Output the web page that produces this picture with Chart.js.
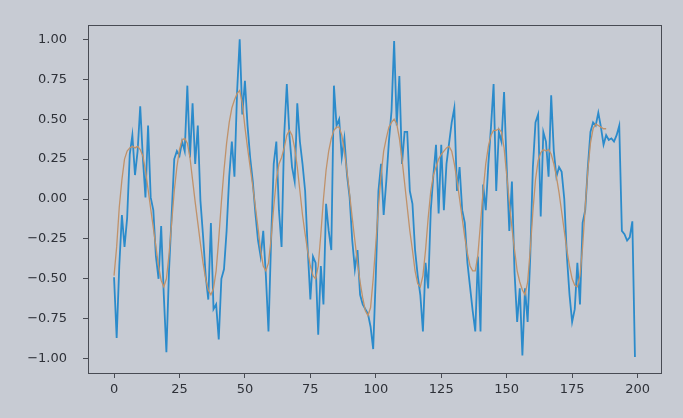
<!DOCTYPE html>
<html>
<head>
<meta charset="utf-8">
<script src="https://cdn.jsdelivr.net/npm/chart.js@4/dist/chart.umd.min.js"></script>
<style>
  html, body { margin: 0; padding: 0; background: #c7cbd3; }
  #wrap { width: 683px; height: 418px; position: relative; }
</style>
</head>
<body>
<div id="wrap"><canvas id="chart" width="683" height="418"></canvas></div>
<script>
// measured signal (blue), one value per step 0..199
const actual = [
  -0.49, -0.87, -0.42, -0.10, -0.30, -0.12, 0.28, 0.40, 0.15, 0.30,
  0.58, 0.26, 0.01, 0.46, 0.01, -0.07, -0.36, -0.50, -0.17, -0.60,
  -0.96, -0.45, -0.10, 0.25, 0.30, 0.27, 0.36, 0.30, 0.71, 0.26,
  0.60, 0.22, 0.46, -0.01, -0.23, -0.48, -0.63, -0.15, -0.69, -0.66,
  -0.88, -0.50, -0.44, -0.20, 0.14, 0.36, 0.14, 0.67, 1.00, 0.53,
  0.74, 0.46, 0.26, 0.11, -0.09, -0.26, -0.36, -0.20, -0.48, -0.83,
  -0.26, 0.22, 0.36, -0.07, -0.30, 0.40, 0.72, 0.40, 0.20, 0.11,
  0.60, 0.36, 0.22, 0.05, -0.32, -0.63, -0.36, -0.40, -0.85, -0.42,
  -0.66, -0.03, -0.20, -0.32, 0.71, 0.46, 0.50, 0.26, 0.38, 0.15,
  0.01, -0.26, -0.44, -0.32, -0.60, -0.66, -0.69, -0.72, -0.80, -0.94,
  -0.48, 0.05, 0.22, -0.10, 0.11, 0.36, 0.55, 0.99, 0.46, 0.77,
  0.22, 0.42, 0.42, 0.05, -0.03, -0.32, -0.48, -0.60, -0.83, -0.40,
  -0.56, -0.07, 0.15, 0.34, -0.09, 0.34, -0.07, 0.22, 0.35, 0.48,
  0.57, 0.05, 0.20, -0.07, -0.15, -0.40, -0.55, -0.70, -0.83, -0.36,
  -0.83, 0.09, -0.07, 0.22, 0.45, 0.72, 0.05, 0.42, 0.36, 0.67,
  0.20, -0.20, 0.11, -0.46, -0.77, -0.56, -0.98, -0.56, -0.77, -0.36,
  0.20, 0.48, 0.53, -0.11, 0.42, 0.36, 0.14, 0.65, 0.30, 0.14,
  0.20, 0.17, 0.00, -0.36, -0.60, -0.77, -0.69, -0.40, -0.66, -0.15,
  -0.07, 0.20, 0.42, 0.48, 0.46, 0.54, 0.45, 0.34, 0.40, 0.37,
  0.38, 0.36, 0.40, 0.46, -0.20, -0.22, -0.26, -0.24, -0.14, -0.99
];

// smoothed / predicted curve (orange), steps 0..188
const predicted = [
  -0.48, -0.30, -0.05, 0.12, 0.25, 0.30, 0.32, 0.33, 0.32, 0.33,
  0.31, 0.27, 0.18, 0.06, -0.06, -0.18, -0.30, -0.42, -0.51, -0.55,
  -0.50, -0.35, -0.15, 0.05, 0.20, 0.31, 0.37, 0.38, 0.35, 0.26,
  0.12, -0.02, -0.15, -0.28, -0.40, -0.50, -0.57, -0.60, -0.56, -0.45,
  -0.25, -0.02, 0.18, 0.35, 0.48, 0.57, 0.62, 0.66, 0.68, 0.60,
  0.45, 0.32, 0.20, 0.08, -0.05, -0.18, -0.32, -0.42, -0.45, -0.40,
  -0.25, -0.05, 0.12, 0.22, 0.26, 0.32, 0.40, 0.43, 0.40, 0.32,
  0.20, 0.05, -0.10, -0.22, -0.33, -0.42, -0.48, -0.50, -0.42, -0.22,
  0.00, 0.18, 0.30, 0.38, 0.43, 0.45, 0.45, 0.40, 0.30, 0.17,
  0.03, -0.12, -0.26, -0.40, -0.52, -0.62, -0.70, -0.73, -0.68, -0.50,
  -0.28, -0.05, 0.15, 0.30, 0.38, 0.45, 0.48, 0.50, 0.47, 0.38,
  0.25, 0.10, -0.05, -0.20, -0.32, -0.45, -0.53, -0.55, -0.48, -0.32,
  -0.12, 0.05, 0.15, 0.20, 0.25, 0.28, 0.30, 0.32, 0.33, 0.30,
  0.22, 0.12, 0.00, -0.12, -0.24, -0.34, -0.42, -0.45, -0.45, -0.35,
  -0.15, 0.05, 0.22, 0.33, 0.40, 0.43, 0.43, 0.44, 0.42, 0.32,
  0.15, -0.02, -0.18, -0.32, -0.45, -0.52, -0.57, -0.60, -0.52, -0.32,
  -0.08, 0.12, 0.24, 0.29, 0.31, 0.30, 0.31, 0.28, 0.22, 0.14,
  0.04, -0.08, -0.20, -0.32, -0.42, -0.50, -0.54, -0.55, -0.48, -0.30,
  -0.05, 0.18, 0.35, 0.44, 0.47, 0.46, 0.45, 0.44, 0.44
];

const xTicks = [0, 25, 50, 75, 100, 125, 150, 175, 200];
const yTicks = [-1.0, -0.75, -0.5, -0.25, 0.0, 0.25, 0.5, 0.75, 1.0];

const axisColor = "#484b53";
const textColor = "#2e3138";

function toPoints(values) {
  return values.map((v, i) => ({ x: i, y: v }));
}

// matplotlib-style box round the plot area
const frame = {
  id: "frame",
  afterDatasetsDraw(chart) {
    const { ctx, chartArea: a } = chart;
    ctx.save();
    ctx.strokeStyle = axisColor;
    ctx.lineWidth = 1;
    ctx.strokeRect(a.left + 0.5, a.top + 0.5, a.right - a.left, a.bottom - a.top);
    ctx.restore();
  }
};

new Chart(document.getElementById("chart"), {
  type: "line",
  data: {
    datasets: [
      {
        label: "predicted",
        data: toPoints(predicted),
        borderColor: "#c0926a",
        borderWidth: 1.3,
        pointRadius: 0,
        tension: 0,
        order: 0
      },
      {
        label: "actual",
        data: toPoints(actual),
        borderColor: "#2b8bcb",
        borderWidth: 1.8,
        pointRadius: 0,
        tension: 0,
        order: 1
      }
    ]
  },
  options: {
    responsive: false,
    animation: false,
    layout: { padding: { top: 25, right: 22, left: 0, bottom: 0 } },
    plugins: { legend: { display: false }, tooltip: { enabled: false } },
    scales: {
      x: {
        type: "linear",
        min: -9.95,
        max: 208.95,
        afterBuildTicks: s => { s.ticks = xTicks.map(v => ({ value: v })); },
        afterFit: s => { s.height = 45; },
        border: { display: true, color: axisColor },
        grid: { drawOnChartArea: false, drawTicks: true, tickLength: 5, color: axisColor },
        ticks: {
          color: textColor,
          font: { family: "'DejaVu Sans', sans-serif", size: 13 },
          padding: 4,
          maxRotation: 0,
          callback: v => String(v)
        }
      },
      y: {
        type: "linear",
        min: -1.09,
        max: 1.09,
        afterBuildTicks: s => { s.ticks = yTicks.map(v => ({ value: v })); },
        afterFit: s => { s.width = 88; },
        border: { display: true, color: axisColor },
        grid: { drawOnChartArea: false, drawTicks: true, tickLength: 5, color: axisColor },
        ticks: {
          color: textColor,
          font: { family: "'DejaVu Sans', sans-serif", size: 13 },
          padding: 16,
          callback: v => (v < 0 ? "\u2212" : "") + Math.abs(v).toFixed(2)
        }
      }
    }
  },
  plugins: [frame]
});
</script>
</body>
</html>
